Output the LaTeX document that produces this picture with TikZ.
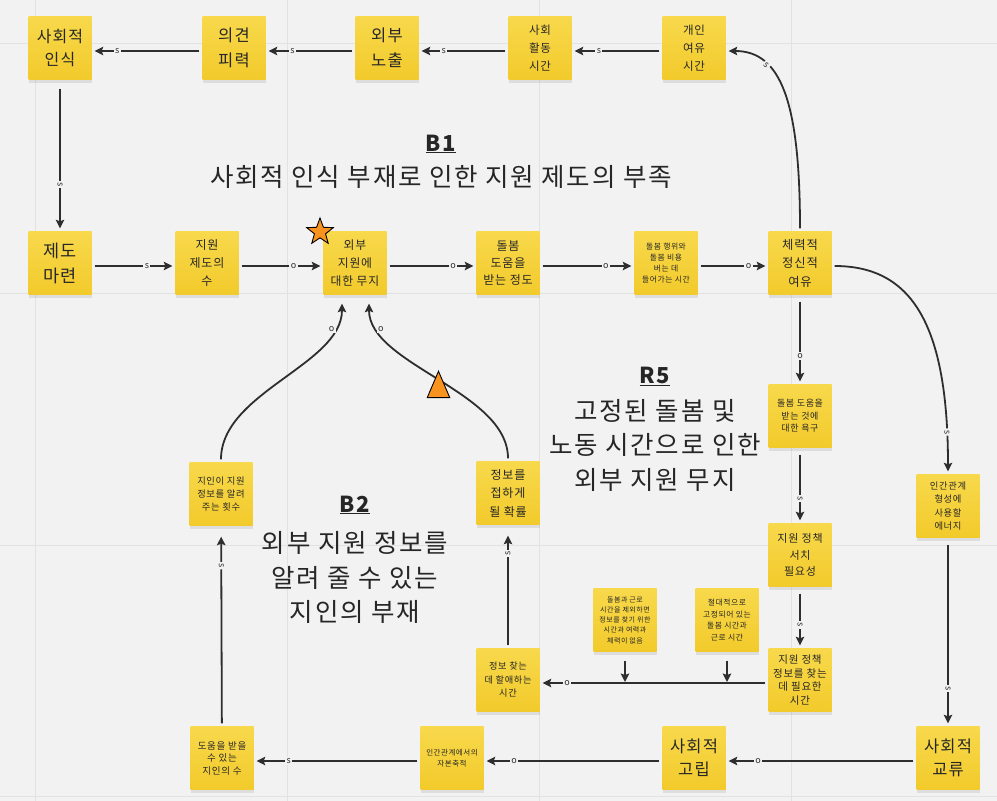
\documentclass[tikz,border=0pt]{standalone}
\usepackage{fontspec}
\setmainfont{Noto Sans CJK KR}[LetterSpace=7]
\usetikzlibrary{arrows.meta,shadows,shapes.geometric}
\definecolor{bgc}{HTML}{F2F2F2}
\definecolor{gridc}{HTML}{E2E2E2}
\definecolor{ntop}{HTML}{F8D94C}
\definecolor{nbot}{HTML}{F2CA2B}
\definecolor{linec}{HTML}{2E2E2E}
\definecolor{txtc}{HTML}{262626}
\definecolor{orng}{HTML}{F7931E}
\newcommand{\fsz}[2]{\fontsize{#1}{#2}\selectfont}
\begin{document}
\begin{tikzpicture}[x=1pt,y=-1pt,
  note/.style={top color=ntop,bottom color=nbot,minimum width=63pt,minimum height=63pt,inner sep=0pt,align=center,text=txtc,
    drop shadow={shadow xshift=0pt,shadow yshift=-3pt,opacity=0.18}},
  arr/.style={draw=linec,line width=1.8pt,-{Stealth[length=8.5pt,width=8.5pt,inset=1.5pt]},shorten >=3pt,shorten <=3pt},
  lbl/.style={fill=bgc,inner sep=1.5pt,text=linec,font=\fsz{9}{9}},
  ttl/.style={inner sep=0pt,text=txtc,font=\fsz{25.5}{30}},
  loopname/.style={inner sep=0pt,text=txtc,font=\fsz{22}{26}\bfseries},
  tri/.style={regular polygon,regular polygon sides=3,fill=orng,draw=black,line width=0.9pt,minimum size=26pt,inner sep=0pt,yscale=1.35},
  starmark/.style={star,star points=5,star point ratio=2.4,fill=orng,draw=black,line width=0.9pt,minimum size=28pt,inner sep=0pt}
]
\fill[bgc] (0,0) rectangle (997,801);
\useasboundingbox (0,0) rectangle (997,801);
\foreach \gx in {35,287,539,791} \draw[gridc,line width=1pt] (\gx,0) -- (\gx,801);
\foreach \gy in {43,293,545,796} \draw[gridc,line width=1pt] (0,\gy) -- (997,\gy);

% titles
\node[loopname] (b1) at (441,144) {\underline{B1}};
\node[ttl] (b1t) at (441,177) {사회적 인식 부재로 인한 지원 제도의 부족};
\node[loopname] (r5) at (655,376) {\underline{R5}};
\node[ttl] (r5a) at (655,411) {고정된 돌봄 및};
\node[ttl] (r5b) at (655,445) {노동 시간으로 인한};
\node[ttl] (r5c) at (655,480) {외부 지원 무지};
\node[loopname] (b2) at (355,505) {\underline{B2}};
\node[ttl] (b2a) at (355,543) {외부 지원 정보를};
\node[ttl] (b2b) at (355,578) {알려 줄 수 있는};
\node[ttl] (b2c) at (355,612) {지인의 부재};

% notes
\node[note,font=\fsz{16}{23}] (sa) at (60,48) {사회적\\인식};
\node[note,font=\fsz{16.5}{25}] (ui) at (234,48) {의견\\피력};
\node[note,font=\fsz{16.5}{25}] (ob) at (387,48) {외부\\노출};
\node[note,font=\fsz{11.5}{18}] (sh) at (540,48) {사회\\활동\\시간};
\node[note,font=\fsz{11.5}{18}] (gy) at (694,48) {개인\\여유\\시간};
\node[note,font=\fsz{17.5}{25}] (jd) at (60,263) {제도\\마련};
\node[note,font=\fsz{12}{18}] (js) at (207,263) {지원\\제도의\\수};
\node[note,font=\fsz{11.8}{18}] (mj) at (355,263) {외부\\지원에\\대한 무지};
\node[note,font=\fsz{12}{17}] (dd) at (508,263) {돌봄\\도움을\\받는 정도};
\node[note,font=\fsz{7.8}{11}] (dt) at (666,263) {돌봄 행위와\\돌봄 비용\\버는 데\\들어가는 시간};
\node[note,font=\fsz{12.3}{18.5}] (cr) at (800,263) {체력적\\정신적\\여유};
\node[note,font=\fsz{9}{12.5}] (yg) at (800,416) {돌봄 도움을\\받는 것에\\대한 욕구};
\node[note,font=\fsz{9.3}{13.5}] (en) at (948,506) {인간관계\\형성에\\사용할\\에너지};
\node[note,font=\fsz{11}{16.5}] (sc) at (800,555) {지원 정책\\서치\\필요성};
\node[note,font=\fsz{10.5}{13.5}] (pt) at (800,680) {지원 정책\\정보를 찾는\\데 필요한\\시간};
\node[note,font=\fsz{7}{10.2}] (n1) at (625,620) {돌봄과 근로\\시간을 제외하면\\정보를 찾기 위한\\시간과 여력과\\체력이 없음};
\node[note,font=\fsz{7.8}{11.5}] (n2) at (727,620) {절대적으로\\고정되어 있는\\돌봄 시간과\\근로 시간};
\node[note,font=\fsz{9.3}{13}] (hs) at (221,494) {지인이 지원\\정보를 알려\\주는 횟수};
\node[note,font=\fsz{12}{18.5}] (jh) at (508,493) {정보를\\접하게\\될 확률};
\node[note,font=\fsz{9.2}{13.5}] (ha) at (508,680) {정보 찾는\\데 할애하는\\시간};
\node[note,font=\fsz{9.5}{12.5}] (jn) at (222,758) {도움을 받을\\수 있는\\지인의 수};
\node[note,font=\fsz{7.5}{10.5}] (ja) at (452,758) {인간관계에서의\\자본축적};
\node[note,font=\fsz{16.5}{23}] (gr) at (694,758) {사회적\\고립};
\node[note,font=\fsz{16.5}{23}] (gl) at (948,758) {사회적\\교류};

\node[starmark] (st) at (320,232) {};
\coordinate (hl) at ([yshift=-3pt]ha.east);

% top row
\draw[arr] ([yshift=-3pt]ui.west) -- ([yshift=-3pt]sa.east) node[lbl,pos=0.77]{s};
\draw[arr] ([yshift=-3pt]ob.west) -- ([yshift=-3pt]ui.east) node[lbl,pos=0.7]{s};
\draw[arr] ([yshift=-3pt]sh.west) -- ([yshift=-3pt]ob.east) node[lbl,pos=0.72]{s};
\draw[arr] ([yshift=-3pt]gy.west) -- ([yshift=-3pt]sh.east) node[lbl,pos=0.7]{s};
\draw[arr,shorten <=9pt] (sa) -- (jd) node[lbl,pos=0.69,sloped]{s};
% middle row
\draw[arr] ([yshift=-3pt]jd.east) -- ([yshift=-3pt]js.west) node[lbl,pos=0.66]{s};
\draw[arr] ([yshift=-3pt]js.east) -- ([yshift=-3pt]mj.west) node[lbl,pos=0.65]{o};
\draw[arr] ([yshift=-3pt]mj.east) -- ([yshift=-3pt]dd.west) node[lbl,pos=0.74]{o};
\draw[arr] ([yshift=-3pt]dd.east) -- ([yshift=-3pt]dt.west) node[lbl,pos=0.7]{o};
\draw[arr] ([yshift=-3pt]dt.east) -- ([yshift=-3pt]cr.west) node[lbl,pos=0.72]{o};
% right
\draw[arr,shorten <=7pt] (cr) -- (yg) node[lbl,pos=0.68]{o};
\draw[arr,shorten <=7pt] (yg) -- (sc) node[lbl,pos=0.67,sloped]{s};
\draw[arr,shorten <=7pt] (sc) -- (pt) node[lbl,pos=0.62,sloped]{s};
\draw[arr,shorten <=7pt] (en) -- (gl) node[lbl,pos=0.8,sloped]{s};
\draw[arr] (cr.north) .. controls +(0,-130) and +(55,0) .. ([yshift=-3pt]gy.east) node[lbl,pos=0.7,sloped]{s};
\draw[arr] ([yshift=-3pt]cr.east) .. controls +(80,0) and +(0,-150) .. (en.north) node[lbl,pos=0.9,sloped]{s};
% bottom
\draw[arr] ([yshift=-3pt]gl.west) -- ([yshift=-3pt]gr.east) node[lbl,pos=0.83]{o};
\draw[arr] ([yshift=-3pt]gr.west) -- ([yshift=-3pt]ja.east) node[lbl,pos=0.83]{o};
\draw[arr] ([yshift=-3pt]ja.west) -- ([yshift=-3pt]jn.east) node[lbl,pos=0.79]{s};
\draw[arr,shorten >=11pt] (jn) -- (hs) node[lbl,pos=0.8,sloped]{s};
\draw[arr] ([yshift=-3pt]pt.west) -- (hl) node[lbl,pos=0.88]{o};
\draw[arr,shorten >=11pt] (ha) -- (jh) node[lbl,pos=0.77,sloped]{s};
\draw[arr,shorten <=9pt,shorten >=1pt] (n1) -- (n1 |- hl);
\draw[arr,shorten <=9pt,shorten >=1pt] (n2) -- (n2 |- hl);
% curves into mj
\draw[arr,shorten >=9pt] (hs.north) .. controls +(0,-70) and +(0,70) .. ([xshift=-13pt]mj.south) node[lbl,pos=0.82]{o};
\draw[arr,shorten >=9pt] (jh.north) .. controls +(0,-70) and +(0,70) .. ([xshift=14pt]mj.south) node[lbl,pos=0.82]{o} node[tri,pos=0.5,yshift=-8pt]{};
\end{tikzpicture}
\end{document}
